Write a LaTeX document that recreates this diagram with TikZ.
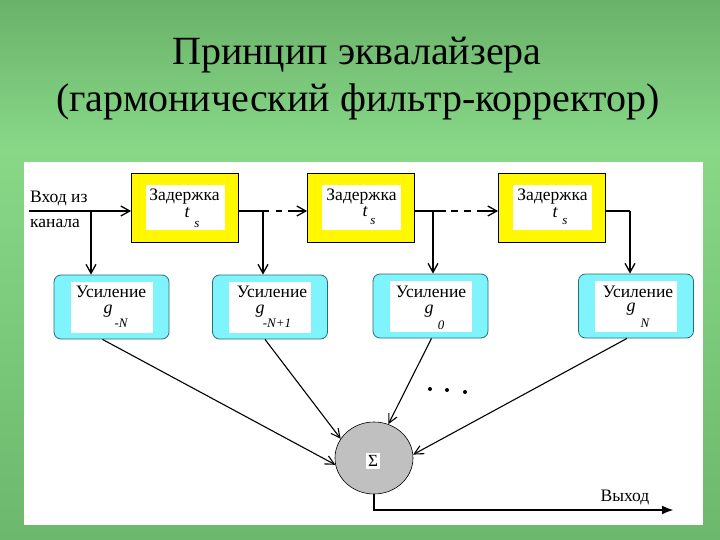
\documentclass[tikz,border=0pt]{standalone}
\usepackage{fontspec}
\setmainfont{Liberation Serif}
\usetikzlibrary{arrows.meta,shapes.geometric}
\definecolor{bgtop}{RGB}{106,178,106}
\definecolor{bgmid}{RGB}{136,216,136}
\definecolor{bgbot}{RGB}{108,184,108}
\definecolor{dyellow}{RGB}{255,248,0}
\definecolor{gcyan}{RGB}{128,244,252}
\definecolor{gedge}{RGB}{40,110,120}
\definecolor{sgray}{RGB}{192,192,192}
\tikzset{
  delaybox/.style={draw=black,line width=0.8pt,fill=dyellow,minimum width=107pt,minimum height=69pt,inner sep=0pt},
  gainbox/.style={draw=gedge,line width=0.8pt,fill=gcyan,rounded corners=7pt,minimum width=115pt,minimum height=64pt,inner sep=0pt},
  lbl/.style={font=\fontsize{17.5}{17.5}\selectfont,inner sep=0pt,anchor=base},
  var/.style={font=\fontsize{18}{18}\selectfont\itshape,inner sep=0pt,anchor=base},
  sub/.style={font=\fontsize{13}{13}\selectfont\itshape,inner sep=0pt,anchor=base},
  ttl/.style={font=\fontsize{40}{40}\selectfont,inner sep=0pt,anchor=base},
  conn/.style={line width=1.6pt,-{Straight Barb[length=9pt,width=10pt,line width=1.3pt]}},
  diag/.style={line width=1.1pt,-{Straight Barb[length=9pt,width=9pt,line width=1.1pt]}},
  plain/.style={line width=1.6pt}
}
\begin{document}
\begin{tikzpicture}[x=1pt,y=-1pt]
\useasboundingbox (0,0) rectangle (720,540);
% background
\shade[top color=bgtop,bottom color=bgmid] (0,0) rectangle (720,150);
\shade[top color=bgmid,bottom color=bgbot] (0,150) rectangle (720,540);
\fill[white] (24,162) rectangle (703,525);
% title
\node[ttl] (title1) at (357,65) {Принцип эквалайзера};
\node[ttl] (title2) at (358,112) {(гармонический фильтр-корректор)};
% delay boxes
\node[delaybox] (d1) at (185,207.5) {};
\node[delaybox] (d2) at (361,207.5) {};
\node[delaybox] (d3) at (552,207.5) {};
\foreach \n/\cx in {d1/185,d2/361,d3/552}{
  \fill[white] (\cx-39,185) rectangle (\cx+40,230);
}
\node[lbl] (d1t) at (184.5,201) {Задержка};
\node[var] (d1v) at (187,218) {t};
\node[sub] (d1s) at (197,227) {s};
\node[lbl] (d2t) at (361.5,201) {Задержка};
\node[var] (d2v) at (365,217) {t};
\node[sub] (d2s) at (373,225) {s};
\node[lbl] (d3t) at (552.5,201) {Задержка};
\node[var] (d3v) at (555,218) {t};
\node[sub] (d3s) at (565,225) {s};
% gain boxes
\node[gainbox] (g1) at (111.5,307) {};
\node[gainbox] (g2) at (270,307) {};
\node[gainbox] (g3) at (430.5,306) {};
\node[gainbox] (g4) at (636,306) {};
\foreach \cx/\cy in {111.5/307,270/307,430.5/306,636/306}{
  \fill[white] (\cx-41,\cy-25) rectangle (\cx+41,\cy+26);
}
\node[lbl] (g1t) at (111,297.5) {Усиление};
\node[var] (g1v) at (108,313) {g};
\node[sub] (g1s) at (121,327) {-N};
\node[lbl] (g2t) at (272,297.5) {Усиление};
\node[var] (g2v) at (260,313) {g};
\node[sub] (g2s) at (277,327) {-N+1};
\node[lbl] (g3t) at (431,297.5) {Усиление};
\node[var] (g3v) at (429,313) {g};
\node[sub] (g3s) at (441,329) {0};
\node[lbl] (g4t) at (638,297.5) {Усиление};
\node[var] (g4v) at (631,311) {g};
\node[sub] (g4s) at (645,327) {N};
% input
\node[lbl,anchor=base west] (inl1) at (30,203) {Вход из};
\node[lbl,anchor=base west] (inl2) at (30,227) {канала};
\coordinate (in) at (29,211);
\coordinate (b1) at (91,211);
\draw[conn] (in) -- (in -| d1.west);
\draw[conn] (b1) -- (b1 |- g1.north);
% delay chain
\coordinate (b2) at (263,211);
\coordinate (b3) at (433,211);
\coordinate (b4) at (630,211);
\draw[conn,dash pattern=on 30pt off 7pt on 6pt off 6pt on 200pt] (d1.east |- in) -- (in -| d2.west);
\draw[conn] (b2) -- (b2 |- g2.north);
\draw[conn,dash pattern=on 31pt off 5pt on 7pt off 6pt on 7pt off 6pt on 200pt] (d2.east |- in) -- (in -| d3.west);
\draw[conn] (b3) -- (b3 |- g3.north);
\draw[plain] (d3.east |- in) -- (b4);
\draw[conn] (b4) -- (b4 |- g4.north);
% summer
\node[draw=black,line width=0.6pt,fill=sgray,ellipse,minimum width=78pt,minimum height=72pt,inner sep=0pt] (sum) at (374,458) {};
\node[fill=white,inner sep=2pt,font=\fontsize{17}{17}\selectfont] (sig) at (373,461) {Σ};
\draw[diag] ([xshift=-9pt]g1.south) -- (sum.190);
\draw[diag] ([xshift=-5pt]g2.south) -- (sum.150);
\draw[diag] ([xshift=1pt]g3.south) -- (sum.67);
\draw[diag] ([xshift=-9pt]g4.south) -- (sum.5);
% dots
\fill (430,389) circle (2pt);
\fill (447,390) circle (2pt);
\fill (465,392) circle (2pt);
% output
\coordinate (out) at (674,510);
\draw[line width=2.6pt,-{Latex[length=12pt,width=9pt]}] (sum.south) -- (sum.south |- out) -- (out);
\node[lbl] (outl) at (625,501) {Выход};
\end{tikzpicture}
\end{document}
